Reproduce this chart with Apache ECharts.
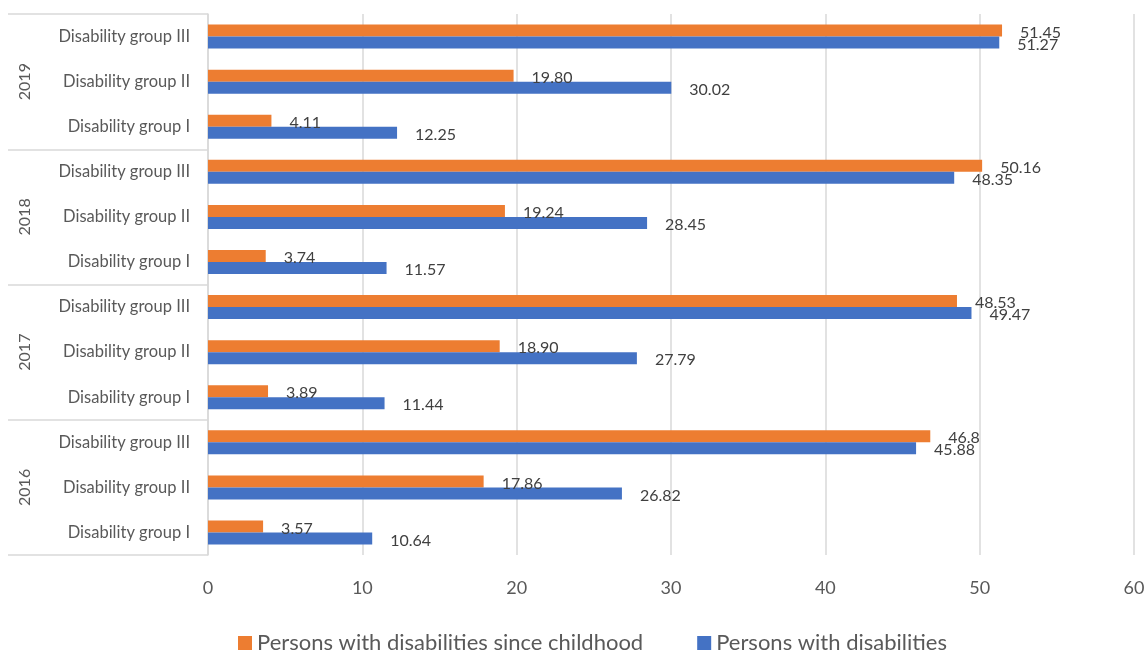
<!DOCTYPE html>
<html>
<head>
<meta charset="utf-8">
<script src="https://cdn.jsdelivr.net/npm/echarts@6/dist/echarts.min.js"></script>
<style>html,body{margin:0;padding:0;background:#fff;}#c{width:1148px;height:650px;}</style>
</head>
<body>
<div id="c"></div>
<script>
// categories bottom-to-top
const categories = [
  'Disability group I','Disability group II','Disability group III',
  'Disability group I','Disability group II','Disability group III',
  'Disability group I','Disability group II','Disability group III',
  'Disability group I','Disability group II','Disability group III'
];
const years = ['2016','2017','2018','2019'];
const childhood = ['3.57','17.86','46.8','3.89','18.90','48.53','3.74','19.24','50.16','4.11','19.80','51.45'];
const disabled = ['10.64','26.82','45.88','11.44','27.79','49.47','11.57','28.45','48.35','12.25','30.02','51.27'];
const seriesNames = ['Persons with disabilities since childhood','Persons with disabilities'];
const xTicks = [0,10,20,30,40,50,60];

const font = 'Lato, "Open Sans", sans-serif';
const chart = echarts.init(document.getElementById('c'));
const labelCfg = {
  show: true, position: 'right', distance: 18, offset: [0, 2],
  color: '#404040', fontSize: 16, fontFamily: font,
  formatter: p => p.data
};
chart.setOption({
  animation: false,
  grid: {left: 208, right: 14, top: 14, bottom: 95},
  legend: {
    top: 627, left: 233, itemGap: 54, itemWidth: 14, itemHeight: 14,
    icon: 'rect',
    textStyle: {color: '#595959', fontSize: 22, fontFamily: font}
  },
  xAxis: {
    type: 'value', min: xTicks[0], max: xTicks[xTicks.length-1], interval: 10,
    axisLine: {show: false}, axisTick: {show: false},
    splitLine: {lineStyle: {color: '#d9d9d9', width: 1.5}},
    axisLabel: {color: '#595959', fontSize: 18, fontFamily: font, margin: 24}
  },
  yAxis: [{
    type: 'category', data: categories,
    axisLine: {show: true, lineStyle: {color: '#d9d9d9', width: 1.5}},
    axisTick: {show: false},
    axisLabel: {color: '#595959', fontSize: 16.5, fontFamily: font, margin: 18}
  }, {
    type: 'category', data: years, position: 'left', offset: 200,
    axisLine: {show: false},
    axisTick: {show: true, inside: true, length: 200, lineStyle: {color: '#d9d9d9', width: 1.5}},
    axisLabel: {color: '#595959', fontSize: 16, fontFamily: font, rotate: 90, inside: true, margin: 9}
  }],
  color: ['#ED7D31','#4472C4'],
  series: [{
    name: seriesNames[0], type: 'bar', data: childhood, barWidth: 12, barGap: '0%',
    label: labelCfg
  }, {
    name: seriesNames[1], type: 'bar', data: disabled, barWidth: 12, barGap: '0%',
    label: labelCfg
  }]
});
</script>
</body>
</html>
